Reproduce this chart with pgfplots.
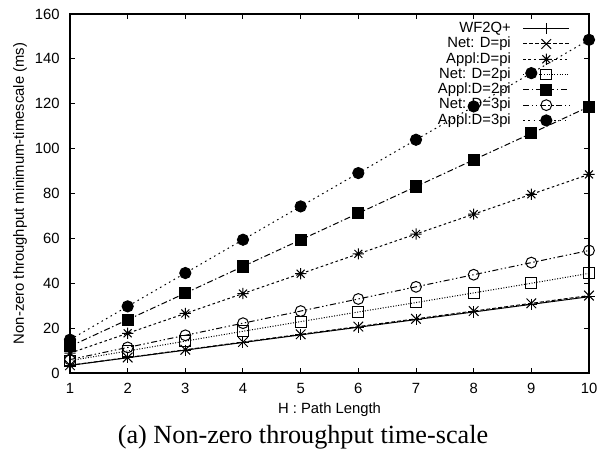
\documentclass[border=0pt]{standalone}
\usepackage{fontspec}
\setmainfont{Liberation Sans}
\newfontfamily\capfont{Liberation Serif}
\usepackage{pgfplots}
\pgfplotsset{compat=1.18}

% gnuplot-style eight-armed star (+ and x overlaid)
\pgfdeclareplotmark{gpstar}{%
  \pgfpathmoveto{\pgfqpoint{-\pgfplotmarksize}{0pt}}%
  \pgfpathlineto{\pgfqpoint{\pgfplotmarksize}{0pt}}%
  \pgfpathmoveto{\pgfqpoint{0pt}{-\pgfplotmarksize}}%
  \pgfpathlineto{\pgfqpoint{0pt}{\pgfplotmarksize}}%
  \pgfpathmoveto{\pgfqpoint{-.707\pgfplotmarksize}{-.707\pgfplotmarksize}}%
  \pgfpathlineto{\pgfqpoint{.707\pgfplotmarksize}{.707\pgfplotmarksize}}%
  \pgfpathmoveto{\pgfqpoint{-.707\pgfplotmarksize}{.707\pgfplotmarksize}}%
  \pgfpathlineto{\pgfqpoint{.707\pgfplotmarksize}{-.707\pgfplotmarksize}}%
  \pgfusepathqstroke}

\newcommand\tfont{\fontsize{7.4bp}{8.6bp}\selectfont}

\begin{document}
\begin{tikzpicture}
\begin{axis}[
    scale only axis,
    width=259.5bp, height=179.5bp,
    xmin=1, xmax=10, ymin=0, ymax=160,
    xtick={1,...,10},
    ytick={0,20,...,160},
    tick align=inside,
    major tick length=2.5bp,
    minor tick num=0,
    axis line style={line width=0.55bp},
    every tick/.style={line width=0.5bp, black},
    /pgf/number format/assume math mode=true,
    tick label style={font=\tfont, inner sep=0pt},
    xticklabel shift=5bp,
    yticklabel shift=5bp,
    xlabel={H : Path Length},
    ylabel={Non-zero throughput minimum-timescale (ms)},
    every axis x label/.style={at={(rel axis cs:0.5,0)}, yshift=-18.5bp, anchor=center, font=\tfont},
    every axis y label/.style={at={(rel axis cs:0,0.5)}, xshift=-25bp, rotate=90, anchor=center, font=\tfont},
    clip=false,
    legend cell align=right,
    legend plot pos=right,
    legend style={draw=none, fill=none, at={(rel axis cs:0.963,0.9805)}, anchor=north east,
        inner sep=0pt, outer sep=0pt, row sep=0pt, column sep=6bp,
        nodes={inner sep=0pt, text height=5.7bp, text depth=1.95bp, font=\tfont}},
    legend image code/.code={\draw[mark repeat=2, mark phase=2, #1]
        plot coordinates {(0bp,0bp) (11.5bp,0bp) (23bp,0bp)};},
    every axis plot/.append style={line width=0.5bp, black},
]
\addplot[solid, mark=+, mark size=2.8bp, mark options={solid}] coordinates {
  (1,3.4) (2,6.8) (3,10.2) (4,13.6) (5,17.0) (6,20.4) (7,23.8) (8,27.2) (9,30.6) (10,34.0)
};
\addlegendentry{WF2Q+}
\addplot[dash pattern=on 2bp off 1bp, mark=x, mark size=3.4bp, mark options={solid}] coordinates {
  (1,3.45) (2,6.9) (3,10.35) (4,13.8) (5,17.25) (6,20.7) (7,24.15) (8,27.6) (9,31.05) (10,34.5)
};
\addlegendentry{Net: D=pi}
\addplot[dash pattern=on 1.3bp off 1.3bp, mark=gpstar, mark size=2.8bp, mark options={solid}] coordinates {
  (1,8.85) (2,17.7) (3,26.55) (4,35.4) (5,44.25) (6,53.1) (7,61.95) (8,70.8) (9,79.65) (10,88.5)
};
\addlegendentry{Appl:D=pi}
\addplot[dash pattern=on 0.5bp off 0.8bp, mark=square, mark size=2.7bp, mark options={solid}] coordinates {
  (1,5.5) (2,9.8) (3,14.2) (4,18.6) (5,22.9) (6,27.2) (7,31.4) (8,35.7) (9,40.0) (10,44.4)
};
\addlegendentry{Net: D=2pi}
\addplot[dash pattern=on 3bp off 1.3bp on 0.7bp off 1.3bp, mark=square*, mark size=2.8bp, mark options={solid}] coordinates {
  (1,11.87) (2,23.74) (3,35.6) (4,47.5) (5,59.35) (6,71.2) (7,83.1) (8,95.0) (9,106.8) (10,118.7)
};
\addlegendentry{Appl:D=2pi}
\addplot[dash pattern=on 3bp off 1.3bp on 0.7bp off 1.3bp on 0.7bp off 1.3bp, mark=o, mark size=2.7bp, mark options={solid}] coordinates {
  (1,6.0) (2,11.4) (3,16.8) (4,22.2) (5,27.6) (6,33.0) (7,38.4) (8,43.8) (9,49.2) (10,54.6)
};
\addlegendentry{Net: D=3pi}
\addplot[dash pattern=on 0.8bp off 1.8bp, mark=*, mark size=2.8bp, mark options={solid}] coordinates {
  (1,14.85) (2,29.7) (3,44.55) (4,59.4) (5,74.25) (6,89.1) (7,103.95) (8,118.8) (9,133.65) (10,148.5)
};
\addlegendentry{Appl:D=3pi}
\end{axis}
\node[font=\capfont\fontsize{13.1bp}{15bp}\selectfont, anchor=center, inner sep=0pt] at (116.5bp,-32bp) {(a) Non-zero throughput time-scale};
\pgfresetboundingbox
\path (-35bp,-41.5bp) rectangle (263.5bp,186.5bp);
\end{tikzpicture}
\end{document}
